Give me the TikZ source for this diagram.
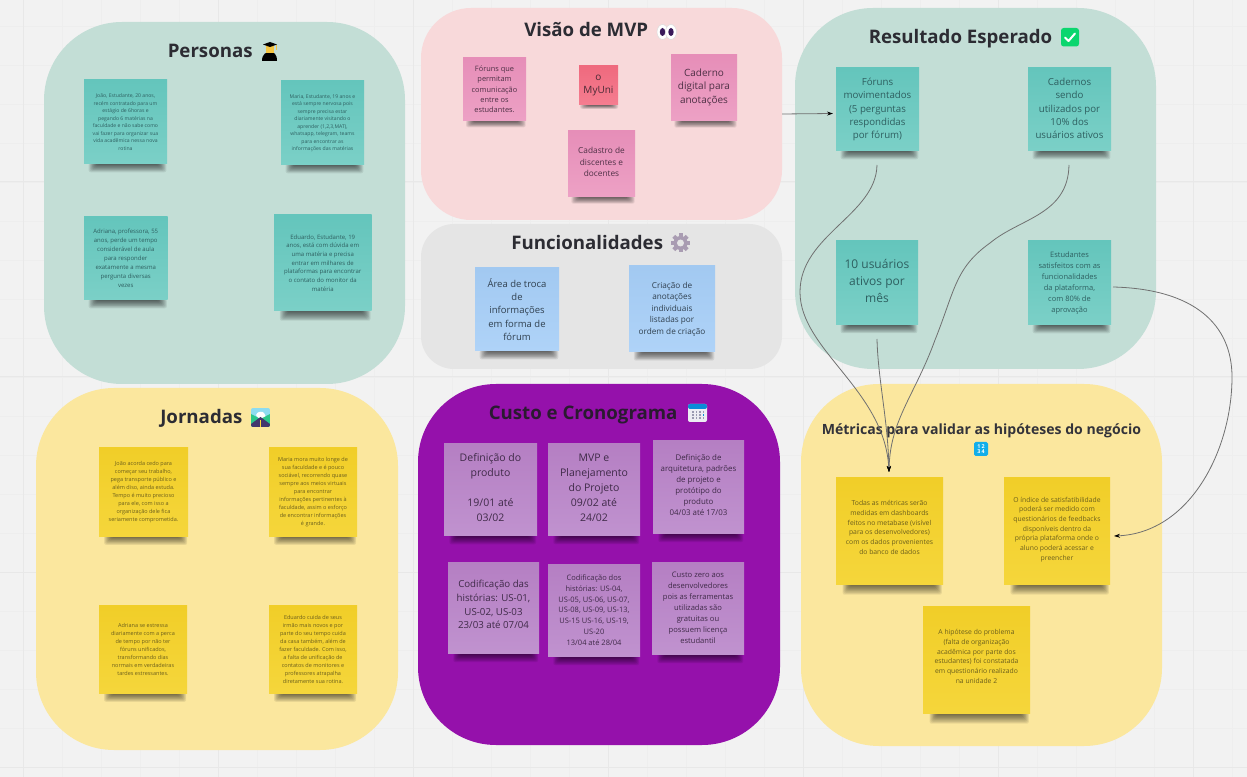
\documentclass[tikz,border=0pt]{standalone}
\usepackage{fontspec}
\setmainfont{Open Sans}
\usetikzlibrary{arrows.meta,calc}
\definecolor{bgc}{HTML}{F2F2F2}
\definecolor{gridM}{HTML}{E8E8E8}
\definecolor{gridm}{HTML}{EEEEEE}
\definecolor{pteal}{HTML}{C3DED6}
\definecolor{pyel}{HTML}{FBE79E}
\definecolor{ppink}{HTML}{F8D9DA}
\definecolor{pgrey}{HTML}{E5E5E5}
\definecolor{ppurp}{HTML}{9511AB}
\definecolor{titlec}{HTML}{2C2C33}
\definecolor{conn}{HTML}{707070}
\definecolor{HT64C5BC}{HTML}{64C5BC}\definecolor{HT7BD0C7}{HTML}{7BD0C7}\definecolor{HT2E5F60}{HTML}{2E5F60}
\definecolor{HTF1CE28}{HTML}{F1CE28}\definecolor{HTF5D63B}{HTML}{F5D63B}\definecolor{HT6B5E1C}{HTML}{6B5E1C}
\definecolor{HTE68EB8}{HTML}{E68EB8}\definecolor{HTEDA1C5}{HTML}{EDA1C5}\definecolor{HT4E3045}{HTML}{4E3045}
\definecolor{HTEF6A7E}{HTML}{EF6A7E}\definecolor{HTF57D90}{HTML}{F57D90}\definecolor{HT4A2A35}{HTML}{4A2A35}
\definecolor{HTA2C9F1}{HTML}{A2C9F1}\definecolor{HTAFD3F8}{HTML}{AFD3F8}\definecolor{HT30404F}{HTML}{30404F}
\definecolor{HTB57FC3}{HTML}{B57FC3}\definecolor{HTC092CF}{HTML}{C092CF}\definecolor{HT3F2A48}{HTML}{3F2A48}
\definecolor{HT2A1A30}{HTML}{2A1A30}\definecolor{HT333}{HTML}{33333A}\definecolor{HTF5C}{HTML}{F5C542}
\definecolor{HT4AC}{HTML}{4AC0E8}\definecolor{HT8DE}{HTML}{8DDCF0}\definecolor{HT2C7}{HTML}{2CC78A}
\definecolor{HT436}{HTML}{43366E}\definecolor{HTFD3}{HTML}{FDD835}\definecolor{HTDDD}{HTML}{DDDDDD}
\definecolor{HT3A1}{HTML}{3A1A5A}\definecolor{HTA99}{HTML}{A99CB2}\definecolor{HTEEE}{HTML}{ECECF2}
\definecolor{HT08C}{HTML}{0A8CD8}\definecolor{HT99A}{HTML}{9A9AB0}\definecolor{HT0D6}{HTML}{0AD66E}
\definecolor{HT0AE}{HTML}{12AEEA}
\tikzset{
  x=0.75pt,y=-0.75pt,
  panelbox/.style={inner sep=0pt,outer sep=0pt},
  titletext/.style={font=\bfseries\fontsize{14}{17}\selectfont,text=titlec,inner sep=0pt,anchor=base west},
  noteteal/.style={top color=HT64C5BC,bottom color=HT7BD0C7,text=HT2E5F60},
  noteyel/.style={top color=HTF1CE28,bottom color=HTF5D63B,text=HT6B5E1C},
  notepink/.style={top color=HTE68EB8,bottom color=HTEDA1C5,text=HT4E3045},
  notered/.style={top color=HTEF6A7E,bottom color=HTF57D90,text=HT4A2A35},
  noteblue/.style={top color=HTA2C9F1,bottom color=HTAFD3F8,text=HT30404F},
  notepurp/.style={top color=HTB57FC3,bottom color=HTC092CF,text=HT3F2A48},
  connector/.style={draw=conn,line width=0.6pt},
  arrowed/.style={-{Stealth[length=4.5pt,width=3pt,color=black]}},
}
% raises a note's text by half of #1
\newcommand\lift[1]{\rule[-#1]{0pt}{0pt}}
% panel: colour, name, x1,y1,x2,y2, radius
\newcommand\panelat[7]{%
  \pgfmathsetmacro\pw{(#5-#3)*0.75}\pgfmathsetmacro\ph{(#6-#4)*0.75}\pgfmathsetmacro\pr{#7*0.75}%
  \node[panelbox,fill=#1,minimum width=\pw pt,minimum height=\ph pt,rounded corners=\pr pt] (#2) at ({(#3+#5)/2},{(#4+#6)/2}) {};}
% note: style, name, x1,y1,x2,y2, font px, leading px, text
\newcommand\noteat[9]{%
  \pgfmathsetmacro\nw{(#5-#3)*0.75}\pgfmathsetmacro\nh{(#6-#4)*0.75}%
  \pgfmathsetmacro\fs{#7*0.75}\pgfmathsetmacro\ls{#8*0.75}%
  \pgfmathsetmacro\sh{(#5-#3)*0.1}\pgfmathsetmacro\sl{(#5-#3)*0.08}\pgfmathsetmacro\sr{(#5-#3)*0.02}%
  \foreach \k in {0,...,9}{%
    \fill[black,opacity=0.075,rounded corners=1.5pt] ({#3+\sl+\k*0.9-2},{#6-1}) rectangle ({#5-\sr-\k*0.9+1},{#6+\sh*(10-\k)/10});}%
  \node[#1,panelbox,minimum width=\nw pt,minimum height=\nh pt,align=center,
        font=\fontsize{\fs pt}{\ls pt}\selectfont] (#2) at ({(#3+#5)/2},{(#4+#6)/2}) {#9};}
\begin{document}
\begin{tikzpicture}
\useasboundingbox (0,0) rectangle (1247,777);
\fill[bgc] (0,0) rectangle (1247,777);
% canvas grid
\foreach \i in {0,...,32}{\draw[gridm,line width=0.5pt] ({23+39*(\i-1)},0) -- ({23+39*(\i-1)},777);}
\foreach \i in {0,...,20}{\draw[gridm,line width=0.5pt] (0,{-13+39*\i}) -- (1247,{-13+39*\i});}
\foreach \i in {0,...,6}{\draw[gridM,line width=0.75pt] ({23+195*\i},0) -- ({23+195*\i},777);}
\foreach \i in {0,...,4}{\draw[gridM,line width=0.75pt] (0,{-13+195*\i}) -- (1247,{-13+195*\i});}

% panels
\panelat{pteal}{personas}{44}{22}{405}{384}{78}
\panelat{pyel}{jornadas}{36}{388}{398}{750}{78}
\panelat{ppink}{visao}{421}{8}{782}{220}{50}
\panelat{pgrey}{funcs}{421}{224}{782}{369}{33}
\panelat{ppurp}{custo}{418}{384}{780}{745}{78}
\panelat{pteal}{result}{795}{8}{1156}{369}{78}
\panelat{pyel}{metricas}{801}{384}{1162}{746}{78}

% titles
\node[titletext] (tpersonas) at (167.5,58) {Personas};
\node[titletext] (tjornadas) at (160,424) {Jornadas};
\node[titletext] (tvisao) at (524,37) {Visão de MVP};
\node[titletext] (tfuncs) at (511,250) {Funcionalidades};
\node[titletext,text=HT2A1A30] (tcusto) at (488.5,420) {Custo e Cronograma};
\node[titletext] (tresult) at (868.5,44) {Resultado Esperado};
\node[titletext,font=\bfseries\fontsize{10.55}{14}\selectfont,text=HT333] (tmetricas) at (821.5,435) {Métricas para validar as hipóteses do negócio};

% Personas notes
\noteat{noteteal}{p1}{84}{80}{167}{164}{5.1}{7.5}{João, Estudante, 20 anos,\\recém contratado para um\\estágio de 6horas e\\pegando 6 matérias na\\faculdade e não sabe como\\vai fazer para organizar sua\\vida acadêmica nessa nova\\rotina}
\noteat{noteteal}{p2}{281}{81}{364}{165}{5.1}{7.5}{Maria, Estudante, 19 anos e\\está sempre nervosa pois\\sempre precisa estar\\diariamente visitando o\\aprender (1,2,3,MAT),\\whatsapp, telegram, teams\\para encontrar as\\informações das matérias}
\noteat{noteteal}{p3}{84}{217}{167.5}{300}{6}{9}{Adriana, professora, 55\\anos, perde um tempo\\considerável de aula\\para responder\\exatamente a mesma\\pergunta diversas\\vezes}
\noteat{noteteal}{p4}{274}{215}{371.5}{311}{6}{8.7}{Eduardo, Estudante, 19\\anos, está com dúvida em\\uma matéria e precisa\\entrar em milhares de\\plataformas para encontrar\\o contato do monitor da\\matéria}

% Jornadas notes
\noteat{noteyel}{j1}{99}{448}{188}{536}{5.5}{8}{João acorda cedo para\\começar seu trabalho,\\pega transporte público e\\além diso, ainda estuda.\\Tempo é muito precioso\\para ele, com isso a\\organização dele fica\\seriamente comprometida.}
\noteat{noteyel}{j2}{269}{448}{357}{536}{5.5}{8}{Maria mora muito longe de\\sua faculdade e é pouco\\sociável, recorrendo quase\\sempre aos meios virtuais\\para encontrar\\informações pertinentes à\\faculdade, assim o esforço\\de encontrar informações\\é grande.}
\noteat{noteyel}{j3}{99}{605}{187}{693}{5.5}{8}{Adriana se estressa\\diariamente com a perca\\de tempo por não ter\\fóruns unificados,\\transformando dias\\normais em verdadeiras\\tardes estressantes.}
\noteat{noteyel}{j4}{269}{605}{357}{693}{5.5}{8}{Eduardo cuida de seus\\irmão mais novos e por\\parte do seu tempo cuida\\da casa também, além de\\fazer faculdade. Com isso,\\a falta de unificação de\\contatos de monitores e\\professores atrapalha\\diretamente sua rotina.}

% Visao notes
\noteat{notepink}{v1}{463}{58}{526}{121}{7.4}{10.3}{Fóruns que\\permitam\\comunicação\\entre os\\estudantes.}
\noteat{notered}{v2}{579}{66}{618}{105}{10}{13}{o\\MyUni}
\noteat{notepink}{v3}{671}{55}{737}{121}{10}{13.7}{Caderno\\digital para\\anotações\lift{3pt}}
\noteat{notepink}{v4}{568}{131}{635}{197}{8.3}{11.7}{Cadastro de\\discentes e\\docentes\lift{3pt}}

% Funcionalidades notes
\noteat{noteblue}{f1}{475}{268}{559}{351}{9.5}{13.3}{Área de troca\\de\\informações\\em forma de\\fórum}
\noteat{noteblue}{f2}{629}{266}{715}{352}{8.2}{11.5}{Criação de\\anotações\\individuais\\listadas por\\ordem de criação}

% Custo notes
\noteat{notepurp}{c1}{444}{444}{537}{535}{10.5}{15}{Definição do\\produto\\[11pt]19/01 até\\03/02\lift{3pt}}
\noteat{notepurp}{c2}{548}{444}{640}{535}{10.5}{15}{MVP e\\Planejamento\\do Projeto\\09/02 até\\24/02\lift{3pt}}
\noteat{notepurp}{c3}{653}{441}{744}{533}{7.9}{11}{Definição de\\arquitetura, padrões\\de projeto e\\protótipo do\\produto\\04/03 até 17/03\lift{3pt}}
\noteat{notepurp}{c4}{448}{562}{539}{653}{9.7}{13.7}{Codificação das\\histórias: US-01,\\US-02, US-03\\23/03 até 07/04\lift{4.5pt}}
\noteat{notepurp}{c5}{548}{564}{640}{656}{7.5}{10.8}{Codificação dos\\histórias: US-04,\\US-05, US-06, US-07,\\US-08, US-09, US-13,\\US-15 US-16, US-19,\\US-20\\13/04 até 28/04}
\noteat{notepurp}{c6}{652}{562}{744}{654}{7.6}{11}{Custo zero aos\\desenvolvedores\\pois as ferramentas\\utilizadas são\\gratuitas ou\\possuem licença\\estudantil}

% Resultado notes
\noteat{noteteal}{r1}{836}{68}{919}{151}{9.7}{13.3}{Fóruns\\movimentados\\(5 perguntas\\respondidas\\por fórum)\lift{1.5pt}}
\noteat{noteteal}{r2}{1028}{68}{1111}{151}{9.7}{13.3}{Cadernos\\sendo\\utilizados por\\10\% dos\\usuários ativos\lift{1.5pt}}
\noteat{noteteal}{r3}{836}{241}{918}{325}{12}{17}{10 usuários\\ativos por\\mês\lift{3pt}}
\noteat{noteteal}{r4}{1028}{241}{1111}{325}{7.5}{11}{Estudantes\\satisfeitos com as\\funcionalidades\\da plataforma,\\com 80\% de\\aprovação}

% Metricas notes
\noteat{noteyel}{m1}{836}{477}{943}{584}{6.8}{9.7}{Todas as métricas serão\\medidas em dashboards\\feitos no metabase (visível\\para os desenvolvedores)\\com os dados provenientes\\do banco de dados\lift{4.5pt}}
\noteat{noteyel}{m2}{1004}{477}{1110}{584}{6.8}{9.7}{O índice de satisfatibilidade\\poderá ser medido com\\questionários de feedbacks\\disponíveis dentro da\\própria plataforma onde o\\aluno poderá acessar e\\preencher\lift{3pt}}
\noteat{noteyel}{m3}{923}{606}{1030}{713}{6.8}{9.7}{A hipótese do problema\\(falta de organização\\acadêmica por parte dos\\estudantes) foi constatada\\em questionário realizado\\na unidade 2\lift{4.5pt}}

% connectors
\coordinate (r1o) at ($(r1.south)+(-0.5,14)$);
\coordinate (r2o) at ($(r2.south)+(-0.5,14)$);
\coordinate (r3o) at ($(r3.south)+(0,14)$);
\coordinate (r4o) at ($(r4.east)+(2,4)$);
\coordinate (m1i) at ($(m1.north)+(-0.5,-5)$);
\coordinate (m2i) at ($(m2.east)+(4,5.5)$);
\coordinate (r1i) at ($(r1.west)+(-3,4)$);
\draw[connector,arrowed] (visao.east) -- (r1i);
\draw[connector,arrowed] (r1o) .. controls +(-1,50) and (800,235) .. (800,292) .. controls (800,350) and (885,390) .. (m1i);
\draw[connector,arrowed] (r2o) .. controls +(-1,50) and (1020,218) .. (990,243) .. controls (955,268) and (955,290) .. (935,340) .. controls (915,395) and (890,420) .. (m1i);
\draw[connector,arrowed] (r3o) .. controls +(1,41) and (888,420) .. (m1i);
\draw[connector,arrowed] (r4o) .. controls (1195,289) and (1232,325) .. (1232,377) .. controls (1232,450) and (1190,533) .. (m2i);

% icon: graduate
\fill[black] (262,61) .. controls (262,54) and (266,52) .. (270,52) .. controls (274,52) and (277,54) .. (277,61) -- cycle;
\fill[HTF5C] (266,45) rectangle (274,53);
\fill[black] (263,44.5) -- (270,42) -- (277,44.5) -- (270,47) -- cycle;
\fill[HTF5C] (275.5,45) rectangle (276.5,50);
% icon: road
\begin{scope}
\clip[rounded corners=1.5pt] (251,408) rectangle (270,427);
\fill[HT8DE] (251,408) rectangle (270,427);
\fill[white] (256,415) .. controls (257,411) and (263,411) .. (264,413) -- (266,417) -- (260,420) -- cycle;
\fill[HT2C7] (251,414) -- (260.5,419) -- (270,414) -- (270,427) -- (251,427) -- cycle;
\fill[HT436] (260.5,417) -- (251,424) -- (251,427) -- (270,427) -- (270,424) -- cycle;
\fill[HTFD3] (260,420) rectangle (261,427);
\end{scope}
% icon: eyes
\fill[white,draw=HTDDD,line width=0.4pt] (662.5,32) ellipse [x radius=5.5,y radius=7.5];
\fill[white,draw=HTDDD,line width=0.4pt] (671,32) ellipse [x radius=5.5,y radius=7.5];
\fill[HT3A1] (662.5,32) ellipse [x radius=2.7,y radius=4];
\fill[HT3A1] (671,32) ellipse [x radius=2.7,y radius=4];
% icon: gear
\foreach \a in {0,45,...,315}{\fill[HTA99,rotate around={\a:(680.5,243)}] (678.5,233.5) rectangle (682.5,238);}
\fill[HTA99] (680.5,243) circle [radius=7];
\fill[pgrey] (680.5,243) circle [radius=3.5];
% icon: calendar
\fill[HTEEE,rounded corners=1.5pt] (688,404) rectangle (707,422);
\fill[HT08C,rounded corners=1.5pt] (688,404) rectangle (707,409);
\foreach \cx in {692,695.5,699,702.5}{\foreach \cy in {411.5,414.5,417.5}{\fill[HT99A] (\cx,\cy) rectangle +(1.6,1.6);}}
\fill[HT08C] (702.5,414.5) rectangle +(1.6,1.6);
% icon: check
\fill[HT0D6,rounded corners=2pt] (1061,28) rectangle (1079,46.5);
\draw[white,line width=1.5pt,line cap=round,line join=round] (1065,37.5) -- (1068.5,41) -- (1075,33.5);
% icon: numbers
\fill[HT0AE,rounded corners=1.2pt] (974,442) rectangle (988,456);
\node[panelbox,text=white,font=\bfseries\fontsize{4}{4.3}\selectfont,align=center] (numbers) at (981,449) {1 2\\3 4};
\end{tikzpicture}
\end{document}
